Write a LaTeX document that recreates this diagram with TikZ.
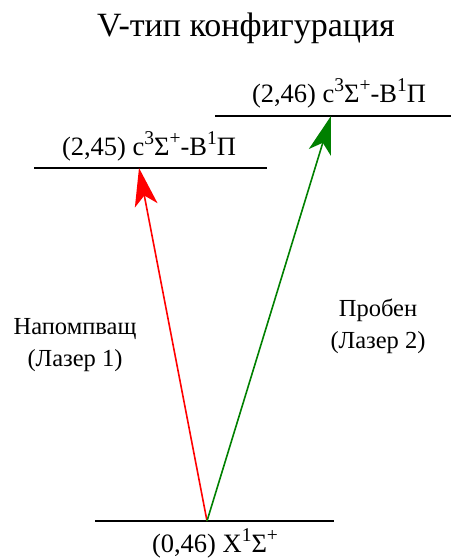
\documentclass[tikz,border=0pt]{standalone}
\usepackage{fontspec}
\setmainfont{Liberation Serif}
\usetikzlibrary{arrows.meta}
\definecolor{pumpred}{RGB}{255,0,0}
\definecolor{probegreen}{RGB}{0,128,0}
\tikzset{
  level/.style={line width=1.8pt, black},
  lbl/.style={font=\fontsize{26.5}{28}\selectfont, inner sep=0pt},
  sidelbl/.style={font=\fontsize{24.5}{32}\selectfont, align=center, inner sep=0pt},
  laser/.style={line width=1.6pt, -{Stealth[length=38pt, width=23pt, inset=10pt]}},
}
\newcommand{\sups}[1]{\raisebox{0.42em}{\fontsize{19.5}{20}\selectfont #1}}
\begin{document}
\begin{tikzpicture}[x=1pt,y=1pt]
\useasboundingbox (0,0) rectangle (451,558);
\node[font=\fontsize{34}{40}\selectfont, inner sep=0pt] (title) at (246,530) {V-тип конфигурация};
% levels
\coordinate (ul) at (215,442); \coordinate (ur) at (451,442);
\coordinate (ml) at (34,390); \coordinate (mr) at (267,390);
\coordinate (gl) at (95,37); \coordinate (gr) at (334,37);
\draw[level] (ul) -- (ur);
\draw[level] (ml) -- (mr);
\draw[level] (gl) -- (gr);
\node[lbl] (lup) at (339,465) {(2,46) c\sups{3}Σ\sups{+}-B\sups{1}Π};
\node[lbl] (lmid) at (149,412) {(2,45) c\sups{3}Σ\sups{+}-B\sups{1}Π};
\node[lbl] (lgnd) at (215,15) {(0,46) X\sups{1}Σ\sups{+}};
% arrows
\coordinate (g0) at (207,37);
\coordinate (tm) at (139,390);
\coordinate (tu) at (331,442);
\draw[laser, pumpred] (g0) -- (tm);
\draw[laser, probegreen] (g0) -- (tu);
\node[sidelbl] (pump) at (75,213) {Напомпващ\\(Лазер 1)};
\node[sidelbl] (probe) at (378,232) {Пробен\\(Лазер 2)};
\end{tikzpicture}
\end{document}
